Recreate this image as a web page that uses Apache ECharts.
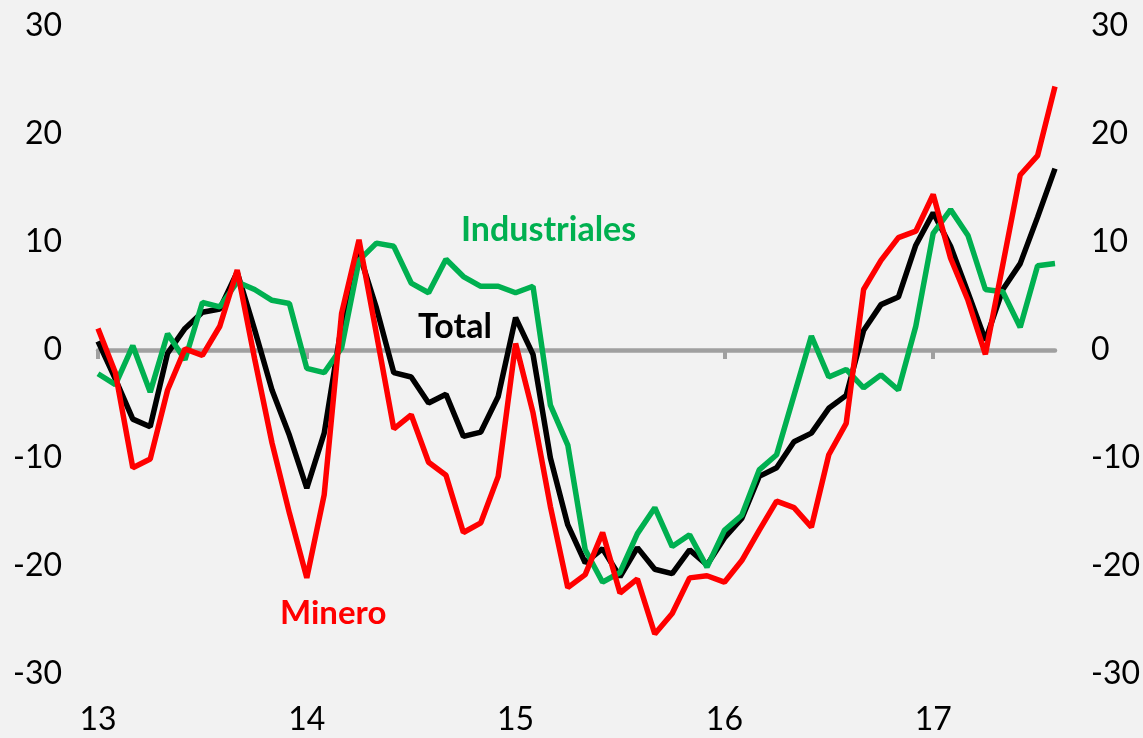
<!DOCTYPE html>
<html>
<head>
<meta charset="utf-8">
<script src="https://cdn.jsdelivr.net/npm/echarts@6/dist/echarts.min.js"></script>
<style>
html,body{margin:0;padding:0;background:#f2f2f2;}
#c{width:1143px;height:738px;}
</style>
</head>
<body>
<div id="c"></div>
<script>
// Monthly, Jan 2013 .. Aug 2017
const months = [];
for (let y = 13; y <= 17; y++) {
  for (let m = 1; m <= 12; m++) {
    if (y === 17 && m > 8) break;
    months.push(y + '-' + (m < 10 ? '0' + m : m));
  }
}
const total = [0.8,-2.7,-6.4,-7.1,-0.3,2.0,3.5,3.8,7.2,1.9,-3.7,-7.9,
  -12.8,-7.7,2.3,9.0,3.9,-2.1,-2.5,-4.9,-4.1,-8.0,-7.6,-4.3,
  3.0,-0.4,-10.0,-16.2,-19.7,-18.4,-21.0,-18.3,-20.3,-20.7,-18.5,-19.9,
  -17.4,-15.6,-11.7,-10.9,-8.5,-7.7,-5.4,-4.2,1.8,4.2,4.9,9.7,
  12.7,9.6,5.3,0.9,5.6,8.0,12.3,16.8];
const minero = [2.0,-2.1,-10.9,-10.1,-3.7,0.1,-0.5,2.2,7.4,-0.8,-8.6,-15.1,
  -21.1,-13.4,3.4,10.2,1.5,-7.3,-6.0,-10.4,-11.6,-16.9,-16.0,-11.7,
  0.6,-5.8,-14.5,-22.0,-20.8,-16.9,-22.5,-21.2,-26.3,-24.4,-21.1,-20.9,
  -21.5,-19.5,-16.7,-14.0,-14.6,-16.4,-9.7,-6.8,5.6,8.3,10.4,11.0,
  14.4,8.5,4.6,-0.4,7.9,16.2,18.0,24.4];
const industriales = [-2.2,-3.2,0.4,-3.9,1.5,-0.9,4.4,4.0,6.3,5.6,4.6,4.3,
  -1.7,-2.1,0.2,8.3,9.9,9.6,6.2,5.3,8.4,6.8,5.9,5.9,
  5.3,5.9,-5.1,-8.8,-18.5,-21.5,-20.6,-17.0,-14.6,-18.2,-17.1,-20.1,
  -16.7,-15.3,-11.1,-9.7,-4.2,1.3,-2.5,-1.8,-3.5,-2.3,-3.7,2.2,
  10.8,13.0,10.6,5.6,5.4,2.1,7.8,8.0];
const seriesNames = ['Total','Minero','Industriales'];

const FONT = 'Lato';
const isJan = (i, v) => String(v).slice(3) === '01';

const chart = echarts.init(document.getElementById('c'));
chart.setOption({
  backgroundColor: '#f2f2f2',
  animation: false,
  grid: {left: 98, right: 87, top: 26, bottom: 64},
  xAxis: [
    {
      type: 'category', data: months, boundaryGap: false, position: 'bottom',
      axisLine: {show: false, onZero: false}, axisTick: {show: false},
      axisLabel: {interval: isJan, formatter: v => v.slice(0, 2), margin: 30,
        fontFamily: FONT, fontSize: 32, color: '#000'},
      splitLine: {show: false}
    },
    {
      type: 'category', data: months, boundaryGap: false, position: 'bottom',
      axisLine: {show: true, onZero: true, lineStyle: {color: '#a0a0a0', width: 4.5}},
      axisTick: {show: true, interval: isJan, length: 9, lineStyle: {color: '#a0a0a0', width: 4}},
      axisLabel: {show: false}, splitLine: {show: false}
    }
  ],
  yAxis: [
    {type: 'value', min: -30, max: 30, interval: 10, position: 'left',
      axisLine: {show: false}, axisTick: {show: false}, splitLine: {show: false},
      axisLabel: {margin: 36, fontFamily: FONT, fontSize: 32, color: '#000'}},
    {type: 'value', min: -30, max: 30, interval: 10, position: 'right',
      axisLine: {show: false}, axisTick: {show: false}, splitLine: {show: false},
      axisLabel: {margin: 36, fontFamily: FONT, fontSize: 32, color: '#000'}}
  ],
  series: [
    {name: seriesNames[0], type: 'line', data: total, xAxisIndex: 0, yAxisIndex: 0,
      symbol: 'none', lineStyle: {color: '#000000', width: 5.5}, z: 3},
    {name: seriesNames[2], type: 'line', data: industriales, xAxisIndex: 0, yAxisIndex: 0,
      symbol: 'none', lineStyle: {color: '#00b050', width: 5.5}, z: 4},
    {name: seriesNames[1], type: 'line', data: minero, xAxisIndex: 0, yAxisIndex: 0,
      symbol: 'none', lineStyle: {color: '#ff0000', width: 5.5}, z: 5}
  ],
  graphic: [
    {type: 'text', left: 461, top: 213, z: 10, style: {text: 'Industriales', fill: '#00b050',
      font: 'bold 34px Lato'}},
    {type: 'text', left: 418, top: 310, z: 10, style: {text: 'Total', fill: '#000',
      font: 'bold 34px Lato'}},
    {type: 'text', left: 280, top: 597, z: 10, style: {text: 'Minero', fill: '#ff0000',
      font: 'bold 33px Lato'}}
  ]
});
</script>
</body>
</html>
